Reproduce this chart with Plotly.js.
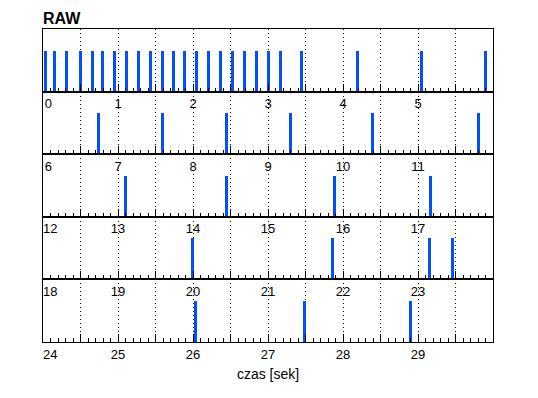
<!DOCTYPE html>
<html>
<head>
<meta charset="utf-8">
<script src="https://cdn.plot.ly/plotly-3.0.1.min.js"></script>
<style>html,body{margin:0;padding:0;background:#fff;}#chart{width:538px;height:398px;}</style>
</head>
<body>
<div id="chart"></div>
<script>
// Spike (event) times in seconds
const spikeTimes = [
  0.033, 0.153, 0.313, 0.500, 0.660, 0.793, 0.953, 1.113, 1.273, 1.433,
  1.593, 1.740, 1.887, 2.040, 2.200, 2.360, 2.527, 2.693, 2.847, 3.007,
  3.167, 3.447, 4.193, 5.047, 5.900,
  6.737, 7.590, 8.444, 9.297, 10.390, 11.804,
  13.103, 14.444, 15.884, 17.164,
  19.990, 21.857, 23.151, 23.457,
  26.031, 27.484, 28.897
];
const spikeHeights = spikeTimes.map(() => 1);
const rowStarts = [0, 6, 12, 18, 24];
const rowLength = 6;
const chartTitle = 'RAW';
const xTitle = 'czas [sek]';

const nbsp = '\u00a0';
const traces = [];
const layout = {
  width: 538, height: 398,
  margin: {l: 43, r: 45, t: 29, b: 56, pad: 0},
  paper_bgcolor: '#ffffff', plot_bgcolor: '#ffffff',
  showlegend: false,
  bargap: 0,
  font: {family: 'Liberation Sans, Arial, sans-serif', size: 13, color: '#000'},
  title: {
    text: '<b>' + chartTitle + '</b>',
    font: {family: 'Liberation Sans, Arial, sans-serif', size: 16, color: '#000'},
    x: 43 / 538, xref: 'container', xanchor: 'left',
    y: 1 - 18 / 398, yref: 'container', yanchor: 'middle'
  }
};

const nRows = rowStarts.length;
rowStarts.forEach((start, r) => {
  const idx = r + 1;
  const xs = [], ys = [];
  spikeTimes.forEach((t, i) => {
    if (t >= start && t < start + rowLength) { xs.push(t); ys.push(spikeHeights[i]); }
  });
  traces.push({
    type: 'bar', x: xs, y: ys, width: 0.04,
    marker: {color: '#0050FF', line: {width: 0}},
    xaxis: 'x' + (idx === 1 ? '' : idx), yaxis: 'y' + (idx === 1 ? '' : idx),
    hoverinfo: 'skip'
  });
  const tickvals = [], ticktext = [];
  for (let k = 0; k < rowLength * 2; k++) {
    const v = start + k * 0.5;
    tickvals.push(v);
    if (k % 2 === 0) {
      let s = String(v);
      if (k === 0) s = nbsp.repeat(s.length === 1 ? 3 : 4) + s;
      ticktext.push(s);
    } else ticktext.push('');
  }
  const h = 1 / nRows;
  const d0 = 1 - (r + 1) * h, d1 = 1 - r * h;
  const xa = {
    domain: [0, 1], range: [start, start + rowLength],
    anchor: 'y' + (idx === 1 ? '' : idx),
    tickmode: 'array', tickvals: tickvals, ticktext: ticktext,
    ticks: 'inside', ticklen: 8, tickwidth: 1, tickcolor: '#000',
    tickangle: 0,
    tickfont: {family: 'Liberation Sans, Arial, sans-serif', size: 13, color: '#000'},
    showgrid: true, gridcolor: '#000', gridwidth: 1, griddash: '1px,3px',
    minor: {dtick: 0.1, tick0: 0, ticks: 'inside', ticklen: 4, tickwidth: 1, tickcolor: '#000', showgrid: false},
    showline: true, linecolor: '#000', linewidth: 1, mirror: true,
    zeroline: false, fixedrange: true
  };
  if (idx === nRows) {
    xa.title = {text: xTitle, standoff: 8, font: {family: 'Liberation Sans, Arial, sans-serif', size: 14, color: '#000'}};
  }
  const ya = {
    domain: [d0, d1], range: [0, 1.524],
    anchor: 'x' + (idx === 1 ? '' : idx),
    showticklabels: false, ticks: '', showgrid: false, zeroline: false,
    showline: true, linecolor: '#000', linewidth: 1, mirror: true, fixedrange: true
  };
  layout['xaxis' + (idx === 1 ? '' : idx)] = xa;
  layout['yaxis' + (idx === 1 ? '' : idx)] = ya;
});

Plotly.newPlot('chart', traces, layout, {staticPlot: true, displayModeBar: false});
</script>
</body>
</html>
